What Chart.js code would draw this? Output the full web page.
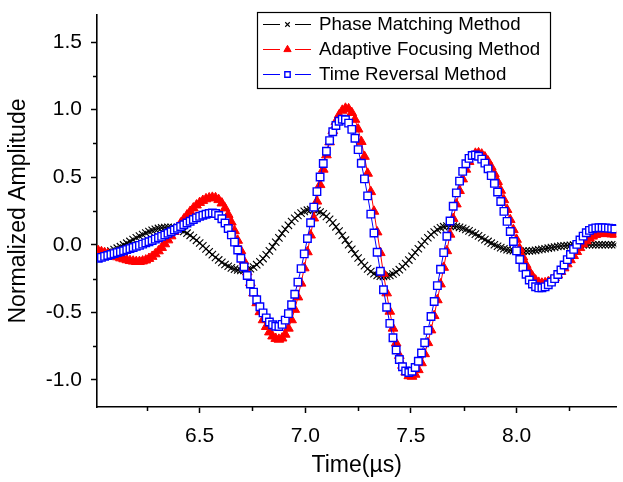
<!DOCTYPE html>
<html>
<head>
<meta charset="utf-8">
<title>Normalized Amplitude vs Time</title>
<script src="https://cdn.jsdelivr.net/npm/chart.js@4.4.1/dist/chart.umd.min.js"></script>
<style>
  html, body { margin: 0; padding: 0; background: #fff; }
  #wrap { width: 623px; height: 482px; }
</style>
</head>
<body>
<div id="wrap"><canvas id="chart" width="623" height="482"></canvas></div>
<script>
// Sample times (µs)
const times = [
    6.02, 6.035, 6.05, 6.065, 6.08, 6.095, 6.11, 6.125, 6.14, 6.155,
    6.17, 6.185, 6.2, 6.215, 6.23, 6.245, 6.26, 6.275, 6.29, 6.305,
    6.32, 6.335, 6.35, 6.365, 6.38, 6.395, 6.41, 6.425, 6.44, 6.455,
    6.47, 6.485, 6.5, 6.515, 6.53, 6.545, 6.56, 6.575, 6.59, 6.605,
    6.62, 6.635, 6.65, 6.665, 6.68, 6.695, 6.71, 6.725, 6.74, 6.755,
    6.77, 6.785, 6.8, 6.815, 6.83, 6.845, 6.86, 6.875, 6.89, 6.905,
    6.92, 6.935, 6.95, 6.965, 6.98, 6.995, 7.01, 7.025, 7.04, 7.055,
    7.07, 7.085, 7.1, 7.115, 7.13, 7.145, 7.16, 7.175, 7.19, 7.205,
    7.22, 7.235, 7.25, 7.265, 7.28, 7.295, 7.31, 7.325, 7.34, 7.355,
    7.37, 7.385, 7.4, 7.415, 7.43, 7.445, 7.46, 7.475, 7.49, 7.505,
    7.52, 7.535, 7.55, 7.565, 7.58, 7.595, 7.61, 7.625, 7.64, 7.655,
    7.67, 7.685, 7.7, 7.715, 7.73, 7.745, 7.76, 7.775, 7.79, 7.805,
    7.82, 7.835, 7.85, 7.865, 7.88, 7.895, 7.91, 7.925, 7.94, 7.955,
    7.97, 7.985, 8.0, 8.015, 8.03, 8.045, 8.06, 8.075, 8.09, 8.105,
    8.12, 8.135, 8.15, 8.165, 8.18, 8.195, 8.21, 8.225, 8.24, 8.255,
    8.27, 8.285, 8.3, 8.315, 8.33, 8.345, 8.36, 8.375, 8.39, 8.405,
    8.42, 8.435, 8.45, 8.465
];

// Phase Matching Method
const phaseMatching = [
    -0.072, -0.067, -0.062, -0.054, -0.046, -0.036, -0.025, -0.014, -0.001, 0.012,
    0.025, 0.038, 0.052, 0.064, 0.075, 0.087, 0.098, 0.107, 0.114, 0.121,
    0.125, 0.128, 0.130, 0.129, 0.126, 0.120, 0.111, 0.099, 0.086, 0.070,
    0.052, 0.033, 0.013, -0.008, -0.030, -0.052, -0.073, -0.093, -0.112, -0.130,
    -0.146, -0.159, -0.171, -0.180, -0.186, -0.189, -0.190, -0.186, -0.177, -0.164,
    -0.147, -0.126, -0.102, -0.074, -0.045, -0.014, 0.019, 0.051, 0.084, 0.115,
    0.144, 0.172, 0.196, 0.217, 0.234, 0.247, 0.256, 0.260, 0.259, 0.253,
    0.243, 0.229, 0.210, 0.188, 0.162, 0.133, 0.102, 0.069, 0.035, 0.001,
    -0.033, -0.066, -0.098, -0.127, -0.154, -0.178, -0.198, -0.214, -0.226, -0.233,
    -0.235, -0.233, -0.226, -0.216, -0.202, -0.184, -0.162, -0.139, -0.113, -0.085,
    -0.057, -0.029, 0.000, 0.026, 0.052, 0.075, 0.095, 0.112, 0.125, 0.134,
    0.139, 0.140, 0.138, 0.135, 0.129, 0.122, 0.113, 0.103, 0.091, 0.079,
    0.066, 0.052, 0.038, 0.025, 0.012, 0.000, -0.011, -0.021, -0.029, -0.036,
    -0.041, -0.044, -0.045, -0.046, -0.047, -0.047, -0.046, -0.044, -0.041, -0.037,
    -0.033, -0.029, -0.025, -0.021, -0.017, -0.013, -0.010, -0.007, -0.005, -0.003,
    -0.002, -0.001, 0, 0, 0, 0, 0, 0, 0, 0,
    0, 0, 0, 0
];

// Adaptive Focusing Method
const adaptiveFocusing = [
    -0.045, -0.052, -0.059, -0.066, -0.074, -0.082, -0.090, -0.098, -0.105, -0.112,
    -0.118, -0.122, -0.125, -0.125, -0.121, -0.114, -0.102, -0.087, -0.068, -0.046,
    -0.021, 0.006, 0.035, 0.065, 0.097, 0.128, 0.160, 0.190, 0.219, 0.246,
    0.271, 0.293, 0.312, 0.327, 0.339, 0.346, 0.350, 0.347, 0.333, 0.308,
    0.271, 0.223, 0.167, 0.103, 0.032, -0.044, -0.122, -0.202, -0.281, -0.357,
    -0.430, -0.496, -0.556, -0.606, -0.646, -0.676, -0.694, -0.700, -0.691, -0.663,
    -0.618, -0.556, -0.479, -0.387, -0.285, -0.172, -0.053, 0.071, 0.197, 0.322,
    0.444, 0.558, 0.664, 0.760, 0.844, 0.911, 0.960, 0.994, 1.009, 1.005,
    0.977, 0.927, 0.855, 0.763, 0.653, 0.528, 0.392, 0.247, 0.094, -0.059,
    -0.212, -0.357, -0.493, -0.618, -0.728, -0.820, -0.893, -0.943, -0.970, -0.974,
    -0.959, -0.925, -0.874, -0.807, -0.725, -0.631, -0.525, -0.408, -0.291, -0.168,
    -0.045, 0.077, 0.194, 0.301, 0.400, 0.486, 0.558, 0.615, 0.654, 0.676,
    0.679, 0.670, 0.649, 0.618, 0.576, 0.525, 0.467, 0.402, 0.332, 0.260,
    0.185, 0.111, 0.039, -0.029, -0.092, -0.148, -0.196, -0.233, -0.262, -0.279,
    -0.285, -0.282, -0.275, -0.262, -0.245, -0.224, -0.199, -0.172, -0.142, -0.112,
    -0.081, -0.051, -0.022, 0.005, 0.028, 0.048, 0.063, 0.075, 0.081, 0.082,
    0.082, 0.081, 0.079, 0.077
];

// Time Reversal Method
const timeReversal = [
    -0.100, -0.093, -0.086, -0.079, -0.072, -0.065, -0.058, -0.051, -0.044, -0.036,
    -0.028, -0.020, -0.012, -0.004, 0.005, 0.014, 0.023, 0.032, 0.042, 0.052,
    0.062, 0.073, 0.085, 0.097, 0.109, 0.122, 0.135, 0.148, 0.161, 0.174,
    0.187, 0.199, 0.210, 0.219, 0.226, 0.231, 0.235, 0.231, 0.217, 0.193,
    0.161, 0.121, 0.073, 0.020, -0.039, -0.100, -0.163, -0.227, -0.290, -0.350,
    -0.407, -0.458, -0.504, -0.541, -0.571, -0.592, -0.603, -0.604, -0.589, -0.557,
    -0.509, -0.444, -0.366, -0.276, -0.176, -0.067, 0.046, 0.163, 0.279, 0.393,
    0.501, 0.601, 0.692, 0.771, 0.836, 0.882, 0.914, 0.929, 0.925, 0.900,
    0.854, 0.788, 0.704, 0.603, 0.488, 0.362, 0.227, 0.087, -0.055, -0.196,
    -0.333, -0.462, -0.581, -0.688, -0.778, -0.849, -0.902, -0.934, -0.945, -0.936,
    -0.908, -0.862, -0.801, -0.725, -0.633, -0.531, -0.419, -0.302, -0.181, -0.058,
    0.063, 0.176, 0.285, 0.384, 0.471, 0.543, 0.600, 0.639, 0.661, 0.664,
    0.655, 0.634, 0.604, 0.562, 0.512, 0.454, 0.390, 0.320, 0.247, 0.173,
    0.098, 0.024, -0.045, -0.109, -0.167, -0.218, -0.260, -0.290, -0.310, -0.319,
    -0.318, -0.311, -0.296, -0.276, -0.250, -0.220, -0.186, -0.149, -0.110, -0.072,
    -0.034, 0.003, 0.035, 0.064, 0.089, 0.107, 0.119, 0.125, 0.126, 0.126,
    0.125, 0.123, 0.120, 0.117
];

// Axis ranges and tick positions (majors get a label, minors are short marks)
const xRange = [6.014, 8.472];
const yRange = [-1.2, 1.7];
const xTickValues = [6.25, 6.5, 6.75, 7.0, 7.25, 7.5, 7.75, 8.0, 8.25];
const yTickValues = [-1.0, -0.75, -0.5, -0.25, 0.0, 0.25, 0.5, 0.75, 1.0, 1.25, 1.5];

const FONT = '"Liberation Sans", Arial, Helvetica, sans-serif';

function isMajor(v) {
    return Math.abs(v * 2 - Math.round(v * 2)) < 1e-6;
}

function toPoints(values) {
    return times.map((t, i) => ({ x: t, y: values[i] }));
}

// Short minor ticks drawn outside the axes
const minorTicks = {
    id: 'minorTicks',
    afterDraw(chart) {
        const { ctx, chartArea, scales } = chart;
        ctx.save();
        ctx.strokeStyle = '#000';
        ctx.lineWidth = 1.5;
        ctx.beginPath();
        xTickValues.filter(v => !isMajor(v)).forEach(v => {
            const px = Math.round(scales.x.getPixelForValue(v)) + 0.5;
            ctx.moveTo(px, chartArea.bottom);
            ctx.lineTo(px, chartArea.bottom + 4);
        });
        yTickValues.filter(v => !isMajor(v)).forEach(v => {
            const py = Math.round(scales.y.getPixelForValue(v)) + 0.5;
            ctx.moveTo(chartArea.left, py);
            ctx.lineTo(chartArea.left - 4, py);
        });
        ctx.stroke();
        ctx.restore();
    }
};

// Boxed legend: line - marker - line, then the label
const boxLegend = {
    id: 'boxLegend',
    afterDraw(chart) {
        const ctx = chart.ctx;
        const box = { x: 257, y: 12, w: 293, h: 76 };
        const rowY = [24, 49, 74];
        const markerRadius = [3.2, 4.2, 3.8];
        ctx.save();
        ctx.fillStyle = '#fff';
        ctx.fillRect(box.x, box.y, box.w, box.h);
        ctx.strokeStyle = '#000';
        ctx.lineWidth = 1.2;
        ctx.strokeRect(box.x + 0.5, box.y + 0.5, box.w, box.h);

        chart.data.datasets.forEach((ds, i) => {
            const y = rowY[i];
            ctx.strokeStyle = ds.borderColor;
            ctx.lineWidth = 1;
            ctx.beginPath();
            ctx.moveTo(263, y + 0.5);
            ctx.lineTo(280, y + 0.5);
            ctx.moveTo(295, y + 0.5);
            ctx.lineTo(311, y + 0.5);
            ctx.stroke();

            ctx.fillStyle = ds.pointBackgroundColor;
            ctx.strokeStyle = ds.pointBorderColor;
            ctx.lineWidth = ds.pointBorderWidth;
            Chart.helpers.drawPoint(ctx, {
                pointStyle: ds.pointStyle,
                radius: markerRadius[i],
                rotation: 0,
                borderWidth: ds.pointBorderWidth
            }, 287.5, y + 0.5);

            ctx.fillStyle = '#000';
            ctx.font = '18.7px ' + FONT;
            ctx.textBaseline = 'middle';
            ctx.textAlign = 'left';
            ctx.fillText(ds.label, 319, y + 1);
        });
        ctx.restore();
    }
};

const ctx = document.getElementById('chart').getContext('2d');
const chart = new Chart(ctx, {
    type: 'line',
    data: {
        datasets: [
            {
                label: 'Phase Matching Method',
                data: toPoints(phaseMatching),
                borderColor: '#000000',
                borderWidth: 1,
                pointStyle: 'crossRot',
                pointRadius: 5.2,
                pointBackgroundColor: '#000000',
                pointBorderColor: '#000000',
                pointBorderWidth: 1.1,
                order: 3
            },
            {
                label: 'Adaptive Focusing Method',
                data: toPoints(adaptiveFocusing),
                borderColor: '#ff0000',
                borderWidth: 1,
                pointStyle: 'triangle',
                pointRadius: 5.6,
                pointBackgroundColor: '#ff0000',
                pointBorderColor: '#ff0000',
                pointBorderWidth: 1,
                order: 2
            },
            {
                label: 'Time Reversal Method',
                data: toPoints(timeReversal),
                borderColor: '#0000ff',
                borderWidth: 1,
                pointStyle: 'rect',
                pointRadius: 5.3,
                pointBackgroundColor: '#ffffff',
                pointBorderColor: '#0000ff',
                pointBorderWidth: 1.4,
                order: 1
            }
        ]
    },
    options: {
        responsive: false,
        animation: false,
        devicePixelRatio: 1,
        layout: { padding: { top: 15, left: 0, right: 0, bottom: 0 } },
        elements: { line: { tension: 0 } },
        plugins: {
            legend: { display: false },
            tooltip: { enabled: false }
        },
        scales: {
            x: {
                type: 'linear',
                min: xRange[0],
                max: xRange[1],
                afterBuildTicks: (scale) => {
                    scale.ticks = xTickValues.map(v => ({ value: v }));
                },
                afterFit: (scale) => {
                    scale.height = 75;
                    scale.paddingLeft = 0;
                    scale.paddingRight = 0;
                },
                ticks: {
                    autoSkip: false,
                    maxRotation: 0,
                    padding: 11,
                    color: '#000',
                    font: { family: FONT, size: 21 },
                    callback: (value) => isMajor(value) ? value.toFixed(1) : ''
                },
                grid: {
                    drawOnChartArea: false,
                    tickLength: 6,
                    tickWidth: 1.5,
                    tickColor: (c) => (c.tick && isMajor(c.tick.value)) ? '#000' : 'rgba(0,0,0,0)'
                },
                border: { display: true, color: '#000', width: 1.6 },
                title: {
                    display: true,
                    text: 'Time(µs)',
                    color: '#000',
                    font: { family: FONT, size: 23 },
                    padding: { top: 0, bottom: 3 }
                }
            },
            y: {
                type: 'linear',
                min: yRange[0],
                max: yRange[1],
                afterBuildTicks: (scale) => {
                    scale.ticks = yTickValues.map(v => ({ value: v }));
                },
                afterFit: (scale) => {
                    scale.width = 97;
                    scale.paddingTop = 0;
                    scale.paddingBottom = 0;
                },
                ticks: {
                    autoSkip: false,
                    padding: 9,
                    color: '#000',
                    font: { family: FONT, size: 21 },
                    callback: (value) => isMajor(value) ? value.toFixed(1) : ''
                },
                grid: {
                    drawOnChartArea: false,
                    tickLength: 6,
                    tickWidth: 1.5,
                    tickColor: (c) => (c.tick && isMajor(c.tick.value)) ? '#000' : 'rgba(0,0,0,0)'
                },
                border: { display: true, color: '#000', width: 1.6 },
                title: {
                    display: true,
                    text: 'Normalized Amplitude',
                    color: '#000',
                    font: { family: FONT, size: 23 },
                    padding: { top: 5, bottom: 0 }
                }
            }
        }
    },
    plugins: [minorTicks, boxLegend]
});
</script>
</body>
</html>
